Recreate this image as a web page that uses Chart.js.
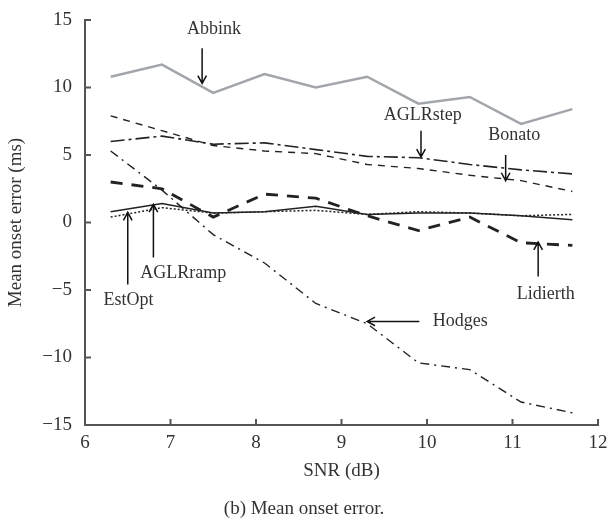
<!DOCTYPE html>
<html>
<head>
<meta charset="utf-8">
<script src="https://cdn.jsdelivr.net/npm/chart.js@4"></script>
<style>
  html, body { margin: 0; padding: 0; background: #fff; }
  #wrap { width: 608px; height: 521px; }
</style>
</head>
<body>
<div id="wrap"><canvas id="myChart" width="608" height="521"></canvas></div>
<script>
// SNR points (dB)
const snr = [6.3, 6.9, 7.5, 8.1, 8.7, 9.3, 9.9, 10.5, 11.1, 11.7];

// mean onset error (ms) per method
const abbink   = [10.8, 11.7, 9.6, 11.0, 10.0, 10.8, 8.8, 9.3, 7.3, 8.4];
const aglrStep = [6.0, 6.4, 5.8, 5.9, 5.4, 4.9, 4.8, 4.3, 3.9, 3.6];
const bonato   = [7.9, 6.8, 5.7, 5.3, 5.1, 4.3, 4.0, 3.5, 3.1, 2.3];
const hodges   = [5.3, 2.4, -0.9, -3.0, -6.0, -7.5, -10.4, -10.9, -13.3, -14.1];
const lidierth = [3.0, 2.5, 0.4, 2.1, 1.8, 0.5, -0.6, 0.4, -1.5, -1.7];
const aglrRamp = [0.8, 1.4, 0.7, 0.8, 1.2, 0.6, 0.7, 0.7, 0.5, 0.2];
const estOpt   = [0.4, 1.1, 0.7, 0.8, 0.9, 0.6, 0.8, 0.7, 0.5, 0.6];

const xTicks = [6, 7, 8, 9, 10, 11, 12];
const yTicks = [-15, -10, -5, 0, 5, 10, 15];

// callouts: label, text position, arrow from -> to (all in data units)
const callouts = [
  { text: 'Abbink',   tx: 7.51,  ty: 14.3,  x1: 7.37,  y1: 12.9,  x2: 7.37,  y2: 10.3 },
  { text: 'AGLRstep', tx: 9.95,  ty: 7.93,  x1: 9.93,  y1: 6.8,   x2: 9.93,  y2: 4.85 },
  { text: 'Bonato',   tx: 11.02, ty: 6.44,  x1: 10.92, y1: 5.0,   x2: 10.92, y2: 3.1 },
  { text: 'EstOpt',   tx: 6.51,  ty: -5.75, x1: 6.5,   y1: -4.6,  x2: 6.5,   y2: 0.75 },
  { text: 'AGLRramp', tx: 7.15,  ty: -3.75, x1: 6.8,   y1: -2.6,  x2: 6.8,   y2: 1.35 },
  { text: 'Lidierth', tx: 11.39, ty: -5.35, x1: 11.3,  y1: -4.0,  x2: 11.3,  y2: -1.45 },
  { text: 'Hodges',   tx: 10.39, ty: -7.33, x1: 9.91,  y1: -7.33, x2: 9.3,   y2: -7.33 }
];

const SERIF = '"Liberation Serif", "Times New Roman", serif';
const INK = '#222';

function series(label, values, opts) {
  return Object.assign({
    label: label,
    data: values.map((v, i) => ({ x: snr[i], y: v })),
    borderColor: INK,
    borderWidth: 1.4,
    pointRadius: 0,
    fill: false,
    tension: 0
  }, opts);
}

function arrow(ctx, x1, y1, x2, y2) {
  const a = Math.atan2(y2 - y1, x2 - x1);
  const h = 9;
  ctx.beginPath();
  ctx.moveTo(x1, y1);
  ctx.lineTo(x2, y2);
  ctx.moveTo(x2 - h * Math.cos(a - 0.5), y2 - h * Math.sin(a - 0.5));
  ctx.lineTo(x2, y2);
  ctx.lineTo(x2 - h * Math.cos(a + 0.5), y2 - h * Math.sin(a + 0.5));
  ctx.stroke();
}

// inward tick marks, titles, caption and callout arrows
const decorations = {
  id: 'decorations',
  afterDraw(chart) {
    const ctx = chart.ctx;
    const xs = chart.scales.x, ys = chart.scales.y;
    const area = chart.chartArea;
    ctx.save();
    ctx.strokeStyle = '#555';
    ctx.lineWidth = 2;
    xTicks.forEach(v => {
      const px = xs.getPixelForValue(v);
      ctx.beginPath(); ctx.moveTo(px, area.bottom); ctx.lineTo(px, area.bottom - 6); ctx.stroke();
    });
    yTicks.forEach(v => {
      const py = ys.getPixelForValue(v);
      ctx.beginPath(); ctx.moveTo(area.left, py); ctx.lineTo(area.left + 6, py); ctx.stroke();
    });

    ctx.fillStyle = '#333';
    ctx.textAlign = 'center';
    ctx.textBaseline = 'middle';
    ctx.font = '19px ' + SERIF;
    ctx.fillText('SNR (dB)', (area.left + area.right) / 2, 471);
    ctx.fillText('(b) Mean onset error.', 304, 509);
    ctx.save();
    ctx.translate(16, (area.top + area.bottom) / 2);
    ctx.rotate(-Math.PI / 2);
    ctx.fillText('Mean onset error (ms)', 0, 0);
    ctx.restore();

    ctx.strokeStyle = '#111';
    ctx.lineWidth = 1.5;
    ctx.font = '18px ' + SERIF;
    callouts.forEach(c => {
      ctx.fillStyle = '#333';
      ctx.fillText(c.text, xs.getPixelForValue(c.tx), ys.getPixelForValue(c.ty));
      arrow(ctx, xs.getPixelForValue(c.x1), ys.getPixelForValue(c.y1),
                 xs.getPixelForValue(c.x2), ys.getPixelForValue(c.y2));
    });
    ctx.restore();
  }
};

const chartConfig = {
  type: 'line',
  data: {
    datasets: [
      series('Abbink', abbink, { borderColor: '#a2a6aa', borderWidth: 2.5 }),
      series('Bonato', bonato, { borderDash: [7, 6] }),
      series('AGLRstep', aglrStep, { borderWidth: 1.6, borderDash: [14, 4, 3, 4] }),
      series('Hodges', hodges, { borderDash: [9, 5, 2, 5] }),
      series('Lidierth', lidierth, { borderWidth: 2.8, borderDash: [12, 9] }),
      series('AGLRramp', aglrRamp, { borderWidth: 1.5 }),
      series('EstOpt', estOpt, { borderWidth: 1.5, borderDash: [2, 2] })
    ]
  },
  options: {
    responsive: false,
    animation: false,
    layout: { padding: { top: 20, right: 10, bottom: 0, left: 0 } },
    plugins: { legend: { display: false }, tooltip: { enabled: false } },
    scales: {
      x: {
        type: 'linear',
        min: 6, max: 12,
        afterFit: s => { s.height = 96; s.paddingLeft = 0; s.paddingRight = 0; },
        afterBuildTicks: s => { s.ticks = xTicks.map(v => ({ value: v })); },
        grid: { display: false, drawTicks: false },
        border: { display: true, color: '#555', width: 2 },
        ticks: { padding: 7, color: '#333', font: { family: SERIF, size: 19 } }
      },
      y: {
        min: -15, max: 15,
        afterFit: s => { s.width = 85; s.paddingTop = 0; s.paddingBottom = 0; },
        afterBuildTicks: s => { s.ticks = yTicks.map(v => ({ value: v })); },
        grid: { display: false, drawTicks: false },
        border: { display: true, color: '#555', width: 2 },
        ticks: {
          padding: 13, color: '#333', font: { family: SERIF, size: 19 },
          callback: v => String(v).replace('-', '\u2212')
        }
      }
    }
  },
  plugins: [decorations]
};

const myChart = new Chart(document.getElementById('myChart'), chartConfig);
</script>
</body>
</html>
